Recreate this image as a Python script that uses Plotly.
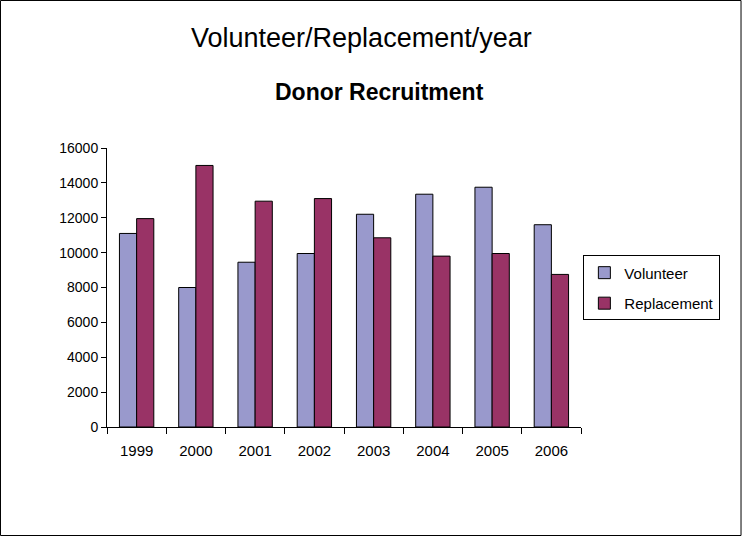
import plotly.graph_objects as go

years = ["1999", "2000", "2001", "2002", "2003", "2004", "2005", "2006"]
volunteer = [11100, 8000, 9450, 9950, 12200, 13350, 13750, 11600]
replacement = [11950, 15000, 12950, 13100, 10850, 9800, 9950, 8750]

colors = {"Volunteer": "rgb(153,153,204)", "Replacement": "rgb(153,51,102)"}
FONT = "Arial, Liberation Sans, sans-serif"

fig = go.Figure()
for name, vals in [("Volunteer", volunteer), ("Replacement", replacement)]:
    fig.add_trace(go.Bar(
        x=years, y=vals, name=name, legendgroup=name,
        marker=dict(color=colors[name], line=dict(color="black", width=1)),
    ))

fig.update_layout(
    width=743, height=537,
    margin=dict(l=107, r=162, t=148, b=110),
    paper_bgcolor="white", plot_bgcolor="white",
    font=dict(family=FONT, size=13, color="black"),
    barmode="group", bargap=0.42, bargroupgap=0,
    showlegend=True,
    legend=dict(
        x=1.005, y=0.615, xanchor="left", yanchor="top",
        bordercolor="black", borderwidth=1,
        font=dict(size=15, family=FONT),
        itemwidth=30, tracegroupgap=8,
    ),
    xaxis=dict(
        showline=True, linecolor="black", linewidth=1,
        ticks="outside", tickson="boundaries", ticklen=6, tickcolor="black",
        ticklabelstandoff=10, tickfont=dict(size=15),
        showgrid=False,
    ),
    yaxis=dict(
        range=[0, 16000], dtick=2000, tickformat="d",
        showline=True, linecolor="black", linewidth=1,
        ticks="outside", ticklen=5, tickcolor="black",
        tickfont=dict(size=14),
        showgrid=False, zeroline=False,
    ),
    annotations=[
        dict(text="Volunteer/Replacement/year", xref="paper", yref="paper",
             x=0.536, y=1.395, xanchor="center", yanchor="middle",
             showarrow=False, font=dict(size=27, family=FONT)),
        dict(text="<b>Donor Recruitment</b>", xref="paper", yref="paper",
             x=0.574, y=1.2, xanchor="center", yanchor="middle",
             showarrow=False, font=dict(size=23, family=FONT)),
    ],
    shapes=[
        dict(type="rect", xref="paper", yref="paper",
             x0=-0.2247, x1=1.3376, y0=-0.3889, y1=1.5287,
             line=dict(color="black", width=1)),
    ],
)

fig.write_html("out.html", config={"displayModeBar": False},
               post_script="document.body.style.margin='0';")
